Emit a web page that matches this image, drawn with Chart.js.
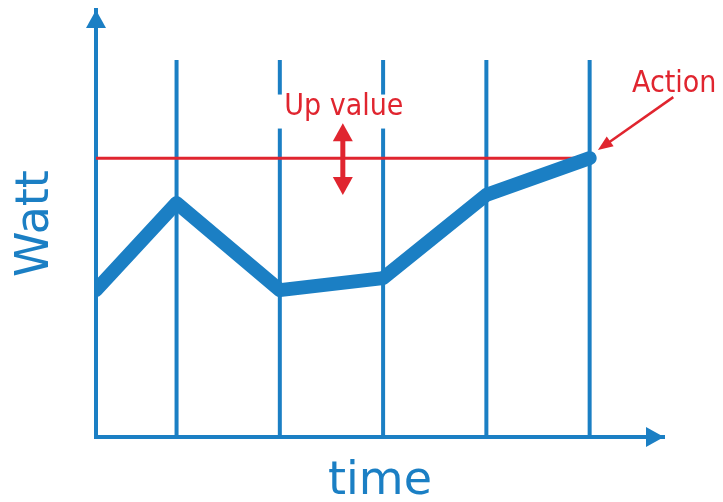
<!DOCTYPE html>
<html>
<head>
<meta charset="utf-8">
<script src="https://cdn.jsdelivr.net/npm/chart.js@4.4.0/dist/chart.umd.min.js"></script>
<style>
body{margin:0;background:#fff}
#wrap{width:723px;height:502px}
</style>
</head>
<body>
<div id="wrap"><canvas id="chart"></canvas></div>
<script>
// time of each measure (also where the vertical lines are)
const times = [0, 0.78, 1.78, 2.78, 3.78, 4.78];
const watts = [3.44, 5.48, 3.44, 3.72, 5.67, 6.53];
const upValue = 6.53;
const gridTop = 8.83;
const xMax = 5.5;
const yMax = 10;

const blue = '#1b7fc4';
const red = '#e0252f';
const labelFont = "30px 'DejaVu Sans Condensed', 'Liberation Sans Narrow', 'DejaVu Sans', sans-serif";

function tri(ctx, ax, ay, bx, by, cx, cy) {
	ctx.beginPath();
	ctx.moveTo(ax, ay); ctx.lineTo(bx, by); ctx.lineTo(cx, cy);
	ctx.closePath();
	ctx.fill();
}

const drawing = {
	id: 'drawing',
	beforeDatasetsDraw(chart) {
		const {ctx, scales: {x, y}} = chart;
		ctx.save();
		ctx.strokeStyle = blue;
		ctx.fillStyle = blue;
		ctx.lineWidth = 4;
		for (const t of times.slice(1)) {
			const px = x.getPixelForValue(t);
			ctx.beginPath();
			ctx.moveTo(px, y.getPixelForValue(0));
			ctx.lineTo(px, y.getPixelForValue(gridTop));
			ctx.stroke();
		}
		// arrow heads on the axes
		const x0 = x.getPixelForValue(0), y0 = y.getPixelForValue(0);
		const top = y.getPixelForValue(yMax), right = x.getPixelForValue(xMax);
		tri(ctx, x0, top, x0 - 10, top + 18, x0 + 10, top + 18);
		tri(ctx, right, y0, right - 18, y0 - 10, right - 18, y0 + 10);
		// white box behind the label cuts the lines
		ctx.fillStyle = '#fff';
		const cx = x.getPixelForValue(2.4);
		ctx.fillRect(cx - 70, y.getPixelForValue(8.02), 140, 34);
		ctx.restore();
	},
	afterDatasetsDraw(chart) {
		const {ctx, scales: {x, y}} = chart;
		ctx.save();
		ctx.fillStyle = red;
		ctx.strokeStyle = red;
		// up/down arrow
		const ax = x.getPixelForValue(2.39);
		const ya = y.getPixelForValue(7.35), yb = y.getPixelForValue(5.67);
		ctx.lineWidth = 5;
		ctx.beginPath(); ctx.moveTo(ax, ya + 15); ctx.lineTo(ax, yb - 15); ctx.stroke();
		tri(ctx, ax, ya, ax - 10, ya + 18, ax + 10, ya + 18);
		tri(ctx, ax, yb, ax - 10, yb - 18, ax + 10, yb - 18);
		ctx.font = labelFont;
		ctx.textAlign = 'center';
		ctx.textBaseline = 'alphabetic';
		ctx.fillText('Up value', x.getPixelForValue(2.4), y.getPixelForValue(7.54));
		ctx.textAlign = 'left';
		ctx.fillText('Action', x.getPixelForValue(5.19), y.getPixelForValue(8.08));
		// arrow pointing at the action point
		const sx = x.getPixelForValue(5.59), sy = y.getPixelForValue(7.96);
		const ex = x.getPixelForValue(4.86), ey = y.getPixelForValue(6.72);
		const ang = Math.atan2(ey - sy, ex - sx);
		ctx.lineWidth = 2.5;
		ctx.beginPath(); ctx.moveTo(sx, sy); ctx.lineTo(ex - 12 * Math.cos(ang), ey - 12 * Math.sin(ang)); ctx.stroke();
		tri(ctx, ex, ey,
			ex - 15 * Math.cos(ang) + 6 * Math.sin(ang), ey - 15 * Math.sin(ang) - 6 * Math.cos(ang),
			ex - 15 * Math.cos(ang) - 6 * Math.sin(ang), ey - 15 * Math.sin(ang) + 6 * Math.cos(ang));
		ctx.restore();
	}
};

const points = times.map((t, i) => ({x: t, y: watts[i]}));
const upLine = [{x: 0, y: upValue}, {x: times[times.length - 1], y: upValue}];

new Chart(document.getElementById('chart'), {
	type: 'line',
	data: {
		datasets: [{
			data: points,
			borderColor: blue,
			borderWidth: 14,
			borderCapStyle: 'round',
			borderJoinStyle: 'round',
			pointRadius: 0,
			tension: 0
		}, {
			data: upLine,
			borderColor: red,
			borderWidth: 3,
			pointRadius: 0
		}]
	},
	options: {
		responsive: true,
		maintainAspectRatio: false,
		animation: false,
		events: [],
		layout: {padding: {top: 10, right: 59, left: 0, bottom: 0}},
		plugins: {legend: {display: false}, tooltip: {enabled: false}},
		scales: {
			x: {
				type: 'linear', min: 0, max: xMax,
				grid: {display: false},
				ticks: {display: false},
				border: {color: blue, width: 4},
				title: {display: true, text: 'time', color: blue,
					font: {family: "'DejaVu Sans', sans-serif", size: 46, lineHeight: 0.8},
					padding: {top: 18.6, bottom: 1.6}}
			},
			y: {
				min: 0, max: yMax,
				grid: {display: false},
				ticks: {display: false},
				border: {color: blue, width: 4},
				title: {display: true, text: 'Watt', color: blue,
					font: {family: "'DejaVu Sans', sans-serif", size: 46, lineHeight: 1.2},
					padding: {top: 8, bottom: 24.8}}
			}
		}
	},
	plugins: [drawing]
});
</script>
</body>
</html>
